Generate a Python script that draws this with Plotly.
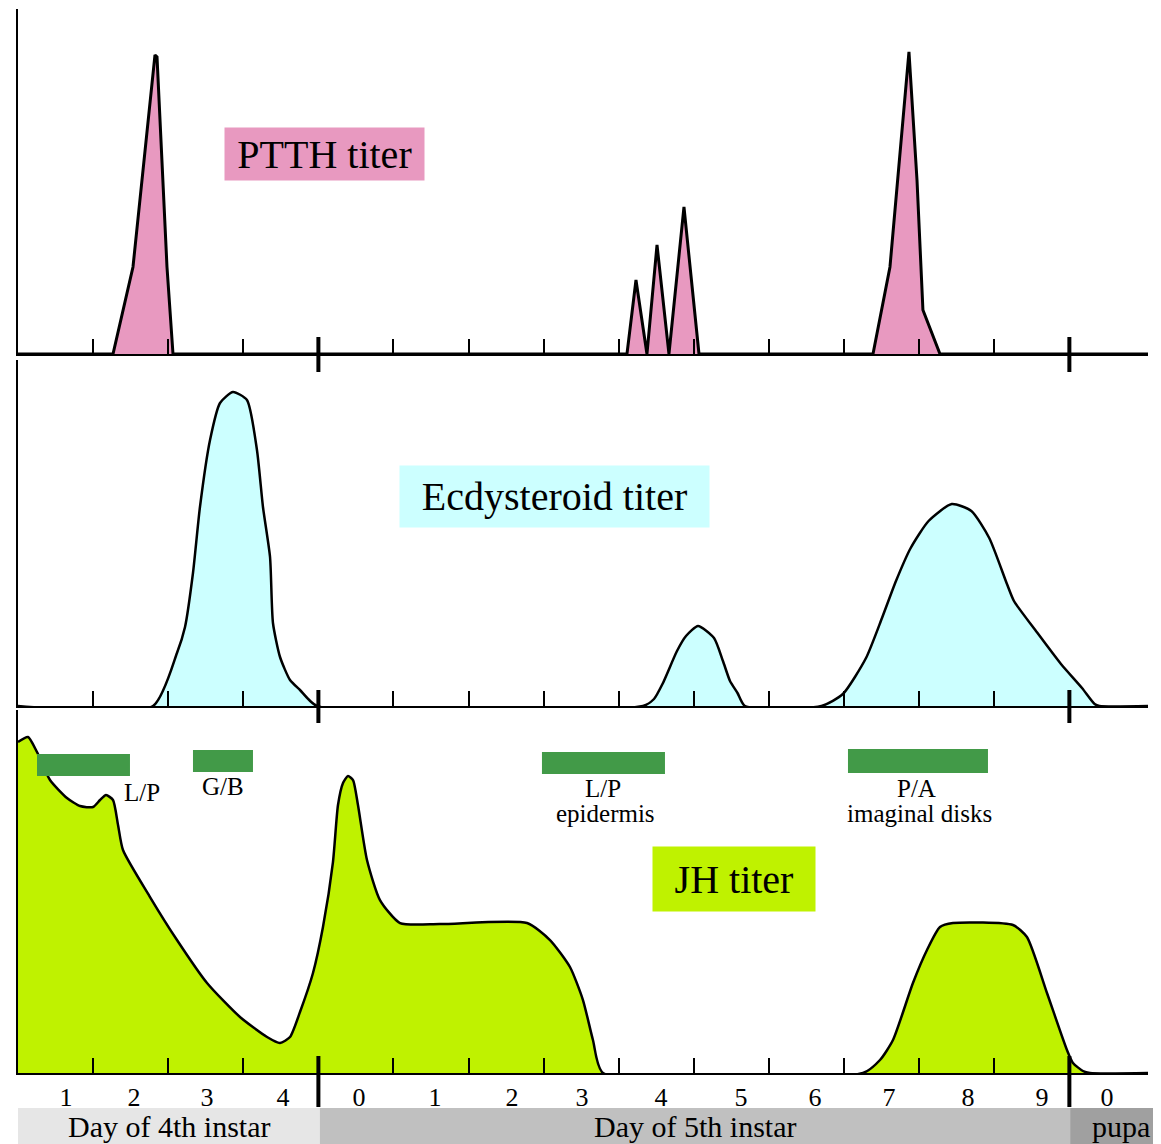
import plotly.graph_objects as go

# ---------------- data (x in days along the time axis, y in relative titer units) ----------------
ptth_day = [0, 1.265, 1.531, 1.824, 1.851, 1.917, 1.984, 2.064,
            8.109, 8.229, 8.375, 8.509, 8.668, 8.868, 9.068,
            11.385, 11.611, 11.864, 11.971, 12.05, 12.277, 15.05]
ptth_titer = [0, 0, 87, 299, 297, 187, 87, 0,
              0, 74, 0, 109, 0, 147, 0,
              0, 87, 302, 174, 44, 0, 0]

ecd_day = [0, 1.798, 2.117, 2.224, 2.330, 2.423, 2.557, 2.690, 2.863, 3.049, 3.182, 3.262,
           3.356, 3.395, 3.489, 3.622, 3.755, 3.981,
           8.322, 8.469, 8.582, 8.775, 8.895, 9.055, 9.268, 9.387, 9.481, 9.581, 9.680,
           10.698, 10.984, 11.292, 11.505, 11.691, 11.887, 12.125, 12.434, 12.695, 12.933,
           13.169, 13.262, 13.555, 13.888, 14.168, 14.336, 14.40, 15.05]
ecd_titer = [0, 0, 53, 79, 133, 199, 266, 303, 314, 306, 256, 199,
             149, 83, 49, 26, 16, 0,
             0, 7, 22, 55, 70, 80, 68, 45, 25, 13, 0,
             0, 12, 48, 88, 125, 158, 185, 202, 195, 168,
             122, 105, 75, 42, 18, 2, 0, 0]

jh_day = [0, 0.133, 0.253, 0.426, 0.652, 0.826, 0.999, 1.092, 1.172, 1.265, 1.332, 1.398,
          1.758, 2.117, 2.517, 2.956, 3.316, 3.489, 3.622, 3.755, 3.928, 4.061, 4.194,
          4.261, 4.328, 4.394, 4.461, 4.527, 4.647, 4.820, 5.087, 5.619, 6.778, 7.084,
          7.350, 7.523, 7.656, 7.790, 11.252, 11.478, 11.651, 11.917, 12.104, 12.277,
          12.450, 13.249, 13.435, 13.702, 13.968, 14.048, 14.181, 14.274, 15.05]
jh_titer = [331, 336, 321, 293, 275, 267, 266, 273, 278, 273, 248, 223,
            176, 133, 90, 56, 36, 30, 36, 61, 100, 146, 211,
            268, 290, 297, 293, 268, 213, 173, 150, 149, 150, 133,
            106, 73, 33, 0, 0, 13, 33, 90, 123, 146,
            150, 148, 136, 80, 23, 10, 2, 0, 0]

# JH-sensitive periods (green bars) : start / end day and labels
period_start = [0.253, 2.330, 6.977, 11.052]
period_end = [1.491, 3.129, 8.615, 12.916]
period_label1 = ["L/P", "G/B", "L/P", "P/A"]
period_label2 = ["", "", "epidermis", "imaginal disks"]

# time axis
minor_tick_days = [1, 2, 3, 5, 6, 7, 8, 9, 10, 11, 12, 13]
stage_boundaries = [4, 14]
day_label_pos = [0.639, 1.545, 2.517, 3.529, 4.541, 5.553, 6.578, 7.510, 8.562, 9.627,
                 10.612, 11.598, 12.650, 13.635, 14.501]
day_labels = ["1", "2", "3", "4", "0", "1", "2", "3", "4", "5", "6", "7", "8", "9", "0"]
stage_names = ["Day of 4th instar", "Day of 5th instar", "pupa"]
stage_spans = [(0, 4.02), (4.02, 14.01), (14.01, 15.40)]
stage_colors = ["#e6e6e6", "#c0c0c0", "#a0a0a0"]

# ---------------- layout constants ----------------
X_MAX = 15.047
SERIF = "Liberation Serif, Times New Roman, serif"
H1, H2, H3 = 345, 346, 363

fig = go.Figure()

fig.add_trace(go.Scatter(x=ptth_day, y=ptth_titer, mode="lines", fill="tozeroy",
                         fillcolor="#e899c0", line=dict(color="black", width=3),
                         xaxis="x", yaxis="y", hoverinfo="skip"))
fig.add_trace(go.Scatter(x=ecd_day, y=ecd_titer, mode="lines", fill="tozeroy",
                         fillcolor="#ccffff",
                         line=dict(color="black", width=2.5, shape="spline", smoothing=0.6),
                         xaxis="x2", yaxis="y2", hoverinfo="skip"))
fig.add_trace(go.Scatter(x=jh_day, y=jh_titer, mode="lines", fill="tozeroy",
                         fillcolor="#bff200",
                         line=dict(color="black", width=2.5, shape="spline", smoothing=0.6),
                         xaxis="x3", yaxis="y3", hoverinfo="skip"))

def xax(anchor, show_labels):
    return dict(domain=[0, 1], range=[0, X_MAX], anchor=anchor, showline=True,
                linecolor="black", linewidth=2, showgrid=False, zeroline=False,
                tickmode="array", tickvals=day_label_pos, ticktext=day_labels,
                ticks="", showticklabels=show_labels,
                tickfont=dict(family=SERIF, size=26, color="black"),
                minor=dict(tickmode="array", tickvals=minor_tick_days, ticks="inside",
                           ticklen=15, tickwidth=2, tickcolor="black", showgrid=False),
                fixedrange=True)

def yax(anchor, dom, top):
    return dict(domain=dom, range=[0, top], anchor=anchor, showline=True,
                linecolor="black", linewidth=2, showgrid=False, zeroline=False,
                showticklabels=False, ticks="", fixedrange=True)

# the page body adds an 8px offset, so the figure is 8px smaller than the window
fig.update_layout(
    width=1153, height=1136,
    margin=dict(l=10, r=13, t=0, b=71),
    paper_bgcolor="white", plot_bgcolor="white",
    showlegend=False,
    xaxis=xax("y", False), yaxis=yax("x", [0.6751, 0.9991], H1),
    xaxis2=xax("y2", False), yaxis2=yax("x2", [0.3446, 0.6695], H2),
    xaxis3=xax("y3", True), yaxis3=yax("x3", [0.0, 0.3408], H3),
)

shapes = []
# thick stage-boundary ticks
for xr, yr, lo, hi, h in [("x", "y", 18, 17, H1), ("x2", "y2", 17, 16, H2), ("x3", "y3", 34, 17, H3)]:
    for b in stage_boundaries:
        shapes.append(dict(type="line", xref=xr, yref=yr + " domain", x0=b, x1=b,
                           y0=-lo / h, y1=hi / h, line=dict(color="black", width=4)))
# green sensitive-period bars
bar_y = [(297, 319), (301, 323), (299, 321), (300, 324)]
for s, e, (y0, y1) in zip(period_start, period_end, bar_y):
    shapes.append(dict(type="rect", xref="x3", yref="y3", x0=s, x1=e, y0=y0, y1=y1,
                       fillcolor="#429a48", line=dict(width=0), layer="above"))
# stage bands at bottom
for (a, b), c in zip(stage_spans, stage_colors):
    shapes.append(dict(type="rect", xref="x3 domain", yref="paper", x0=a / X_MAX, x1=b / X_MAX,
                       y0=-0.0670, y1=-0.0329, fillcolor=c, line=dict(width=0), layer="below"))
fig.update_layout(shapes=shapes)

ann = []
# titer boxes
for txt, xr, yr, xc, yc, w, h, bg in [
        ("PTTH titer", "x", "y", 4.081, 200, 199, 52, "#e899c0"),
        ("Ecdysteroid titer", "x2", "y2", 7.144, 209.5, 309, 61, "#ccffff"),
        ("JH titer", "x3", "y3", 9.534, 194, 162, 64, "#bff200")]:
    ann.append(dict(text=txt, xref=xr, yref=yr, x=xc, y=yc, xanchor="center", yanchor="middle",
                    showarrow=False, width=w, height=h, bgcolor=bg, borderpad=0,
                    font=dict(family=SERIF, size=40, color="black")))
# period labels
lab_pos = [(1.651, 281), (2.730, 287), (7.790, 285), (11.97, 285)]
for (xc, yc), l1, l2 in zip(lab_pos, period_label1, period_label2):
    ann.append(dict(text=l1, xref="x3", yref="y3", x=xc, y=yc, showarrow=False,
                    xanchor="center", yanchor="middle",
                    font=dict(family=SERIF, size=25, color="black")))
    if l2:
        ann.append(dict(text=l2, xref="x3", yref="y3", x=xc + 0.03, y=yc - 25, showarrow=False,
                        xanchor="center", yanchor="middle",
                        font=dict(family=SERIF, size=25, color="black")))
# stage names
for (a, b), name in zip([(0, 4.02), (4.02, 14.01), (14.01, 15.37)], stage_names):
    ann.append(dict(text=name, xref="x3", yref="paper", x=(a + b) / 2, y=-0.0500,
                    xanchor="center", yanchor="middle", showarrow=False,
                    font=dict(family=SERIF, size=30, color="black")))
fig.update_layout(annotations=ann)

fig.write_html("out.html")
